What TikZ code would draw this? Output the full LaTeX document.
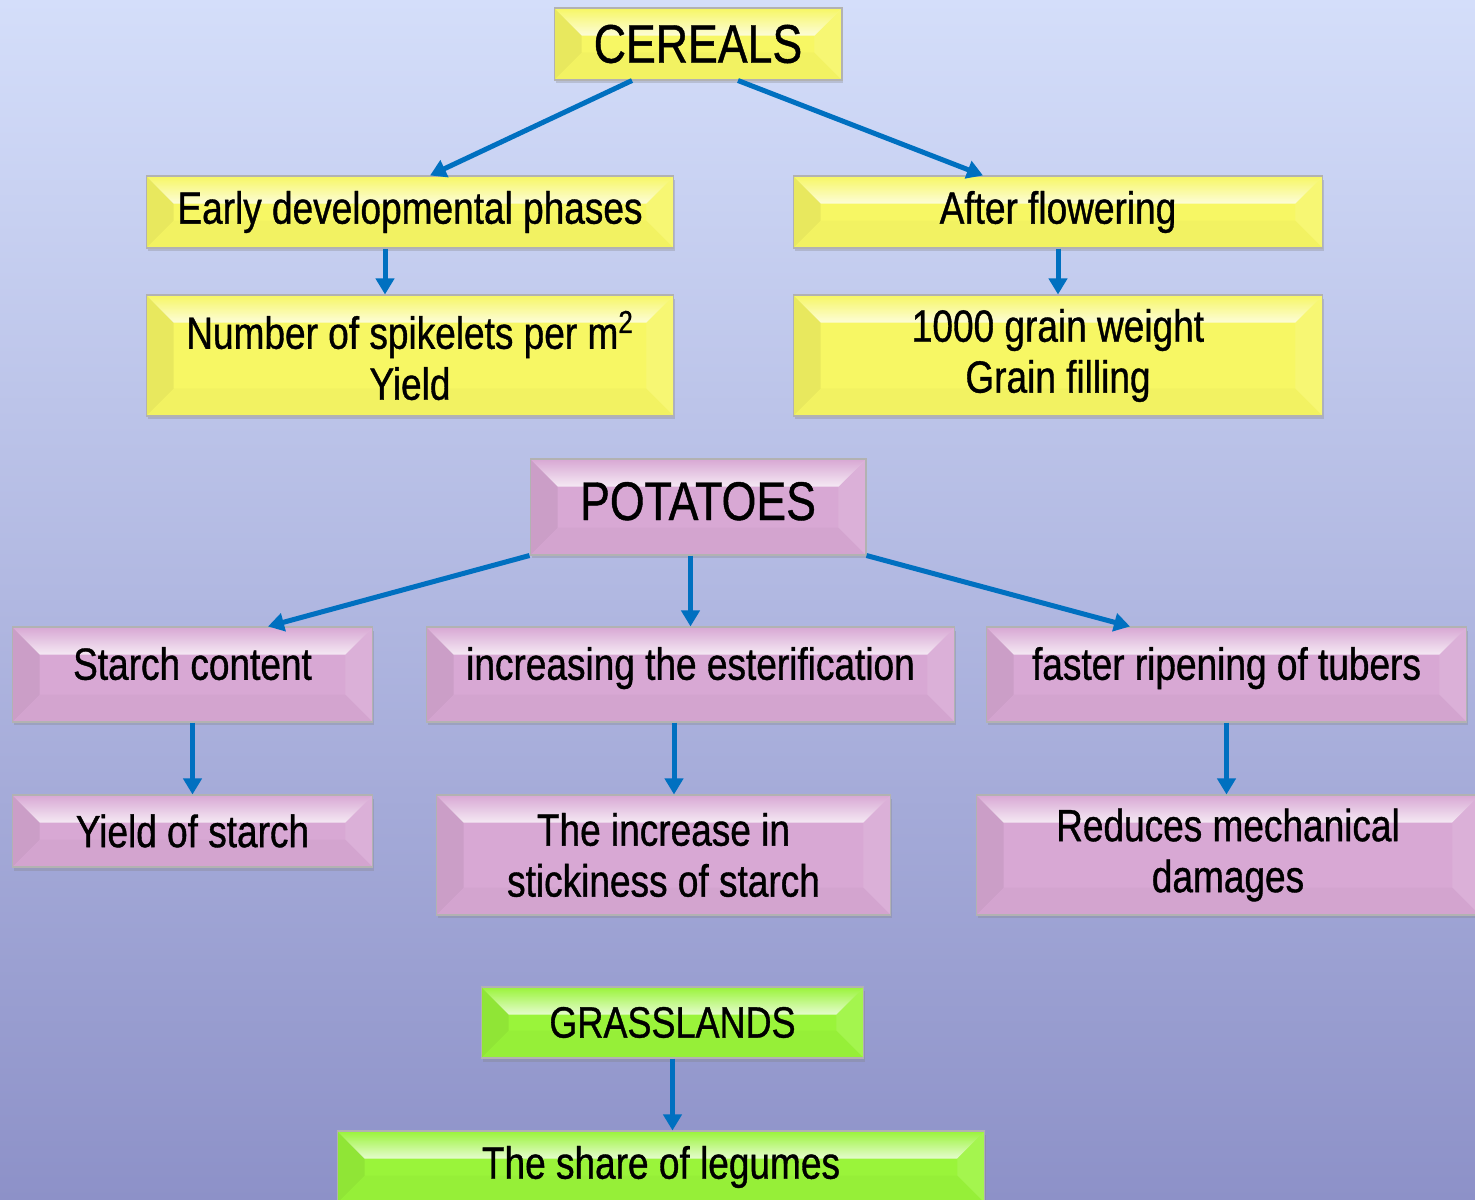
\documentclass[tikz,border=0pt]{standalone}
\usepackage{fontspec}
\setmainfont[FakeStretch=0.82,FakeBold=0.8]{Liberation Sans}
\usetikzlibrary{arrows.meta,shadows,fadings}
\definecolor{bgtop}{RGB}{212,222,250}
\definecolor{bgbot}{RGB}{141,145,200}
\definecolor{cyel}{RGB}{247,247,100}
\definecolor{cpink}{RGB}{216,168,212}
\definecolor{cgreen}{RGB}{154,244,58}
\definecolor{arrowblue}{RGB}{0,112,192}
\def\bevsize{0.55cm}
\tikzset{bevel/.style={path picture={
  \coordinate (nw) at (path picture bounding box.north west);
  \coordinate (ne) at (path picture bounding box.north east);
  \coordinate (sw) at (path picture bounding box.south west);
  \coordinate (se) at (path picture bounding box.south east);
  \fill[white,opacity=.75,path fading=north] (nw) -- (ne) -- ([shift={(-\bevsize,-\bevsize)}]ne) -- ([shift={(\bevsize,-\bevsize)}]nw) -- cycle;
  \fill[black,opacity=.06] (nw) -- ([shift={(\bevsize,-\bevsize)}]nw) -- ([shift={(\bevsize,\bevsize)}]sw) -- (sw) -- cycle;
  \fill[white,opacity=.1] (ne) -- ([shift={(-\bevsize,-\bevsize)}]ne) -- ([shift={(-\bevsize,\bevsize)}]se) -- (se) -- cycle;
  \fill[black,opacity=.02] (sw) -- ([shift={(\bevsize,\bevsize)}]sw) -- ([shift={(-\bevsize,\bevsize)}]se) -- (se) -- cycle;
  \draw[white,opacity=.8,line width=1.5pt] (nw) -- (ne);
}}}

\begin{document}
\begin{tikzpicture}[x=0.02cm,y=-0.02cm,
box/.style={rectangle, draw=black!30, line width=0.6pt, inner sep=0pt, align=center, bevel,
  drop shadow={shadow xshift=0.03cm, shadow yshift=-0.07cm, opacity=0.3},
  font=\fontsize{25.7}{29}\selectfont},
ybox/.style={box, fill=cyel},
pbox/.style={box, fill=cpink},
gbox/.style={box, fill=cgreen},
headfont/.style={font=\fontsize{31}{34}\selectfont},
raised/.style={text height=18pt, text depth=12pt},
link/.style={draw=arrowblue, line width=0.1cm, -{Triangle[length=0.32cm,width=0.36cm]}},
]
\useasboundingbox (0,0) rectangle (1475,1200);
\clip (0,0) rectangle (1475,1200);
\shade[top color=bgtop, bottom color=bgbot] (0,0) rectangle (1475,1200);

%Nodes
\node[ybox,headfont, minimum width=5.76cm, minimum height=1.44cm] (cereals) at (698,44) {CEREALS};
\node[ybox, minimum width=10.56cm, minimum height=1.44cm] (early) at (410,212) {Early developmental phases};
\node[ybox, minimum width=10.6cm, minimum height=1.44cm] (after) at (1058,212) {After flowering};
\node[ybox, minimum width=10.56cm, minimum height=2.42cm] (spikelets) at (410,355.5) {Number of spikelets per m\textsuperscript{2}\\Yield};
\node[ybox, minimum width=10.6cm, minimum height=2.42cm] (grain) at (1058,355.5) {1000 grain weight\\Grain filling};

\node[pbox,headfont, text height=22.5pt, text depth=7.7pt, minimum width=6.72cm, minimum height=1.92cm] (potatoes) at (698,507) {POTATOES};
\node[pbox,raised, minimum width=7.22cm, minimum height=1.9cm] (starch) at (192.5,674.5) {Starch content};
\node[pbox,raised, minimum width=10.58cm, minimum height=1.9cm] (ester) at (690.5,674.5) {increasing the esterification};
\node[pbox,raised, minimum width=9.62cm, minimum height=1.9cm] (ripening) at (1226.5,674.5) {faster ripening of tubers};
\node[pbox, minimum width=7.22cm, minimum height=1.44cm] (yieldstarch) at (192.5,831) {Yield of starch};
\node[pbox, minimum width=9.1cm, minimum height=2.4cm] (stickiness) at (663.5,855) {The increase in\\stickiness of starch};
\node[pbox, minimum width=10.08cm, minimum height=2.4cm] (mechanical) at (1228,855) {Reduces mechanical\\damages};

\node[gbox, font=\fontsize{25}{29}\selectfont, minimum width=7.66cm, minimum height=1.42cm] (grasslands) at (672.5,1022.5) {GRASSLANDS};
\node[gbox, minimum width=12.96cm, minimum height=1.44cm] (legumes) at (661,1167) {The share of legumes};

%Lines
\draw[link] ([xshift=-1.32cm]cereals.south) -- ([xshift=0.4cm]early.north);
\draw[link] ([xshift=0.8cm]cereals.south) -- ([xshift=-1.5cm]after.north);
\draw[link] ([xshift=-0.5cm]early.south) -- ([xshift=-0.5cm]spikelets.north);
\draw[link] (after.south) -- (grain.north);

\draw[link] (potatoes.south west) -- ([xshift=1.51cm]starch.north);
\draw[link] (potatoes.south -| ester.north) -- (ester.north);
\draw[link] (potatoes.south east) -- ([xshift=-1.93cm]ripening.north);
\draw[link] (starch.south) -- (yieldstarch.north);
\draw[link] ([xshift=-0.33cm]ester.south) -- ([xshift=-0.33cm]ester.south |- stickiness.north);
\draw[link] (ripening.south) -- (ripening.south |- mechanical.north);

\draw[link] (grasslands.south) -- (grasslands.south |- legumes.north);
\end{tikzpicture}
\end{document}
